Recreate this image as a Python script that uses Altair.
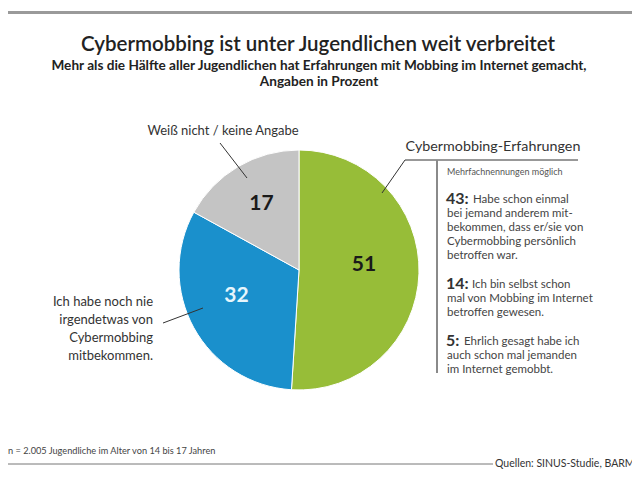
import altair as alt
import pandas as pd

# ---- data ----
categories = ["Cybermobbing-Erfahrungen", "Ich habe noch nie irgendetwas von Cybermobbing mitbekommen.", "Weiß nicht / keine Angabe"]
values = [51, 32, 17]
slice_colors = ["#97bd38", "#1a90cc", "#c4c4c4"]
label_colors = ["#1a1a1a", "#e6f6fc", "#1a1a1a"]

title = "Cybermobbing ist unter Jugendlichen weit verbreitet"
subtitle = ["Mehr als die Hälfte aller Jugendlichen hat Erfahrungen mit Mobbing im Internet gemacht,",
            "Angaben in Prozent"]
detail_numbers = ["43:", "14:", "5:"]
detail_texts = [
    ["Habe schon einmal", "bei jemand anderem mit-", "bekommen, dass er/sie von", "Cybermobbing persönlich", "betroffen war."],
    ["Ich bin selbst schon", "mal von Mobbing im Internet", "betroffen gewesen."],
    ["Ehrlich gesagt habe ich", "auch schon mal jemanden", "im Internet gemobbt."],
]
note = "n = 2.005 Jugendliche im Alter von 14 bis 17 Jahren"
source = "Quellen: SINUS-Studie, BARMER"

FONT = "Lato"
W, H = 624, 462
xs = alt.Scale(domain=[8, 8 + W], range=[0, W], nice=False, zero=False)
ys = alt.Scale(domain=[8 + H, 8], nice=False, zero=False)

pie_df = pd.DataFrame({"cat": categories, "val": values, "ord": [0, 1, 2],
                       "col": slice_colors, "lcol": label_colors})
CX, CY, R = 299 - 8, 270 - 8, 120

pie = alt.Chart(pie_df).mark_arc(radius=R, stroke="white", strokeWidth=1).encode(
    theta=alt.Theta("val:Q", stack=True),
    order=alt.Order("ord:Q"),
    color=alt.Color("col:N", scale=None),
    x=alt.value(CX), y=alt.value(CY),
)
pie_labels = alt.Chart(pie_df).mark_text(radius=68, dx=-3, dy=-7, font=FONT, fontSize=21, fontWeight="bold").encode(
    theta=alt.Theta("val:Q", stack=True),
    order=alt.Order("ord:Q"),
    text=alt.Text("val:Q"),
    color=alt.Color("lcol:N", scale=None),
    x=alt.value(CX), y=alt.value(CY),
)

def texts(rows, **kw):
    df = pd.DataFrame(rows, columns=["x", "y", "t"])
    return alt.Chart(df).mark_text(font=FONT, baseline="middle", **kw).encode(
        x=alt.X("x:Q", scale=xs, axis=None),
        y=alt.Y("y:Q", scale=ys, axis=None),
        text="t:N",
    )

def segs(rows, **kw):
    df = pd.DataFrame(rows, columns=["x", "y", "x2", "y2"])
    return alt.Chart(df).mark_rule(**kw).encode(
        x=alt.X("x:Q", scale=xs, axis=None),
        y=alt.Y("y:Q", scale=ys, axis=None),
        x2="x2:Q", y2="y2:Q",
    )

layers = []
# top border line
layers.append(segs([(8, 12.5, 632, 12.5)], color="#9a9a9a", strokeWidth=3))
layers.append(texts([(318, 45, title)], fontSize=20.5, fontWeight=600, color="#222222", align="center"))
layers.append(texts([(319, 66, subtitle[0]), (319, 82, subtitle[1])], fontSize=13.6, fontWeight="bold", color="#222222", align="center"))
layers.append(pie)
layers.append(pie_labels)
# leader lines
layers.append(segs([(220, 143, 247, 178), (163, 323, 203, 308), (382, 193, 405, 160), (405, 160, 578, 160)],
                   color="#333333", strokeWidth=1))
layers.append(segs([(437, 160, 437, 373)], color="#8a8a8a", strokeWidth=2))
layers.append(texts([(223, 131, categories[2])], fontSize=13, color="#333333", align="center"))
layers.append(texts([(153, 302, "Ich habe noch nie"), (153, 320, "irgendetwas von"),
                     (153, 338, "Cybermobbing"), (153, 356, "mitbekommen.")],
                    fontSize=13, color="#333333", align="right"))
layers.append(texts([(493, 147, categories[0])], fontSize=14.3, color="#333333", align="center"))
layers.append(texts([(447, 172, "Mehrfachnennungen möglich")], fontSize=9, color="#555555", align="left"))
starts = [200, 285, 342]
text_x = [473, 472, 464]
num_rows, body_rows = [], []
for n, lines, y0, tx in zip(detail_numbers, detail_texts, starts, text_x):
    num_rows.append((446, y0 - 1, n))
    for i, line in enumerate(lines):
        body_rows.append((tx if i == 0 else 447, y0 + i * 14, line))
layers.append(texts(num_rows, fontSize=16, fontWeight="bold", color="#333333", align="left"))
layers.append(texts(body_rows, fontSize=11.5, color="#444444", align="left"))
layers.append(texts([(8, 451, note)], fontSize=9.2, color="#444444", align="left"))
layers.append(segs([(8, 464, 493, 464)], color="#777777", strokeWidth=1))
layers.append(texts([(495, 464, source)], fontSize=10.5, color="#333333", align="left"))

chart = alt.layer(*layers).properties(
    width=W, height=H, padding=0, autosize="none", background="white"
).configure_view(stroke=None)

chart.save("out.html", embed_options={"renderer": "svg", "actions": False})
